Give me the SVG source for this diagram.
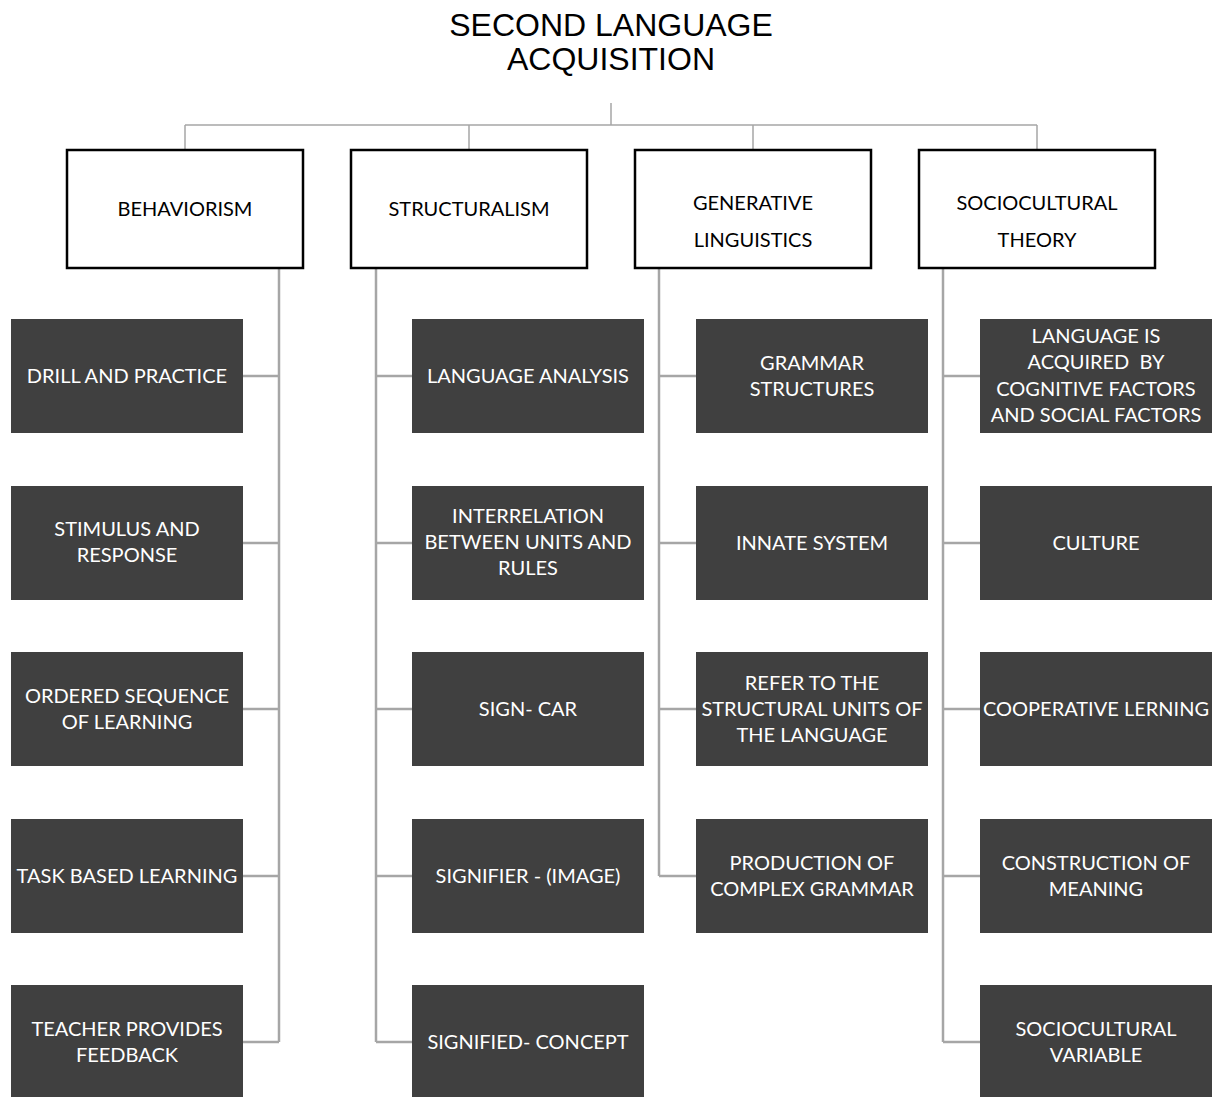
<svg xmlns="http://www.w3.org/2000/svg" width="1220" height="1097" viewBox="0 0 1220 1097">
<style>
.title{font-family:"Liberation Sans",Arial,sans-serif;font-size:32px;fill:#000;text-anchor:middle}
.h{fill:#fff;stroke:#000;stroke-width:2.5}
.ht{font-family:Lato,"Open Sans",sans-serif;font-size:20px;fill:#000;text-anchor:middle}
.d{fill:#404040}
.dt{font-family:Lato,"Open Sans",sans-serif;font-size:20px;fill:#fff;text-anchor:middle}
.c{stroke:#a6a6a6;fill:none}
.c1{stroke-width:1.5}
.c2{stroke-width:2.5}
</style>
<rect width="1220" height="1097" fill="#fff"/>
<g id="title">
<text class="title" x="611" y="36">SECOND LANGUAGE</text>
<text class="title" x="611" y="70">ACQUISITION</text>
</g>
<g id="connectors">
<path class="c c1" d="M611 103V125M185 125H1037M185 125V150M469 125V150M753 125V150M1037 125V150"/>
<path class="c c2" d="M279 268V1042M243 376H279M243 543H279M243 709H279M243 876H279M243 1042H279"/>
<path class="c c2" d="M376 268V1042M376 376H412M376 543H412M376 709H412M376 876H412M376 1042H412"/>
<path class="c c2" d="M659 268V876M659 376H696M659 543H696M659 709H696M659 876H696"/>
<path class="c c2" d="M943 268V1042M943 376H980M943 543H980M943 709H980M943 876H980M943 1042H980"/>
</g>
<g id="behaviorism"><rect class="h" x="67" y="150" width="236" height="118"/><text class="ht" x="185" y="216">BEHAVIORISM</text></g>
<g id="structuralism"><rect class="h" x="351" y="150" width="236" height="118"/><text class="ht" x="469" y="216">STRUCTURALISM</text></g>
<g id="generative"><rect class="h" x="635" y="150" width="236" height="118"/><text class="ht" x="753" y="210">GENERATIVE</text><text class="ht" x="753" y="247">LINGUISTICS</text></g>
<g id="sociocultural"><rect class="h" x="919" y="150" width="236" height="118"/><text class="ht" x="1037" y="210">SOCIOCULTURAL</text><text class="ht" x="1037" y="247">THEORY</text></g>

<g id="b1"><rect class="d" x="11" y="319" width="232" height="114"/><text class="dt" x="127" y="383">DRILL AND PRACTICE</text></g>
<g id="b2"><rect class="d" x="11" y="486" width="232" height="114"/><text class="dt" x="127" y="536">STIMULUS AND</text><text class="dt" x="127" y="562">RESPONSE</text></g>
<g id="b3"><rect class="d" x="11" y="652" width="232" height="114"/><text class="dt" x="127" y="703">ORDERED SEQUENCE</text><text class="dt" x="127" y="729">OF LEARNING</text></g>
<g id="b4"><rect class="d" x="11" y="819" width="232" height="114"/><text class="dt" x="127" y="883">TASK BASED LEARNING</text></g>
<g id="b5"><rect class="d" x="11" y="985" width="232" height="114"/><text class="dt" x="127" y="1036">TEACHER PROVIDES</text><text class="dt" x="127" y="1062">FEEDBACK</text></g>

<g id="s1"><rect class="d" x="412" y="319" width="232" height="114"/><text class="dt" x="528" y="383">LANGUAGE ANALYSIS</text></g>
<g id="s2"><rect class="d" x="412" y="486" width="232" height="114"/><text class="dt" x="528" y="523">INTERRELATION</text><text class="dt" x="528" y="549">BETWEEN UNITS AND</text><text class="dt" x="528" y="575">RULES</text></g>
<g id="s3"><rect class="d" x="412" y="652" width="232" height="114"/><text class="dt" x="528" y="716">SIGN- CAR</text></g>
<g id="s4"><rect class="d" x="412" y="819" width="232" height="114"/><text class="dt" x="528" y="883">SIGNIFIER - (IMAGE)</text></g>
<g id="s5"><rect class="d" x="412" y="985" width="232" height="114"/><text class="dt" x="528" y="1049">SIGNIFIED- CONCEPT</text></g>

<g id="g1"><rect class="d" x="696" y="319" width="232" height="114"/><text class="dt" x="812" y="370">GRAMMAR</text><text class="dt" x="812" y="396">STRUCTURES</text></g>
<g id="g2"><rect class="d" x="696" y="486" width="232" height="114"/><text class="dt" x="812" y="550">INNATE SYSTEM</text></g>
<g id="g3"><rect class="d" x="696" y="652" width="232" height="114"/><text class="dt" x="812" y="690">REFER TO THE</text><text class="dt" x="812" y="716">STRUCTURAL UNITS OF</text><text class="dt" x="812" y="742">THE LANGUAGE</text></g>
<g id="g4"><rect class="d" x="696" y="819" width="232" height="114"/><text class="dt" x="812" y="870">PRODUCTION OF</text><text class="dt" x="812" y="896">COMPLEX GRAMMAR</text></g>

<g id="c1"><rect class="d" x="980" y="319" width="232" height="114"/><text class="dt" x="1096" y="343">LANGUAGE IS</text><text class="dt" x="1096" y="369">ACQUIRED&#160; BY</text><text class="dt" x="1096" y="396">COGNITIVE FACTORS</text><text class="dt" x="1096" y="422">AND SOCIAL FACTORS</text></g>
<g id="c2"><rect class="d" x="980" y="486" width="232" height="114"/><text class="dt" x="1096" y="550">CULTURE</text></g>
<g id="c3"><rect class="d" x="980" y="652" width="232" height="114"/><text class="dt" x="1096" y="716">COOPERATIVE LERNING</text></g>
<g id="c4"><rect class="d" x="980" y="819" width="232" height="114"/><text class="dt" x="1096" y="870">CONSTRUCTION OF</text><text class="dt" x="1096" y="896">MEANING</text></g>
<g id="c5"><rect class="d" x="980" y="985" width="232" height="114"/><text class="dt" x="1096" y="1036">SOCIOCULTURAL</text><text class="dt" x="1096" y="1062">VARIABLE</text></g>
</svg>
